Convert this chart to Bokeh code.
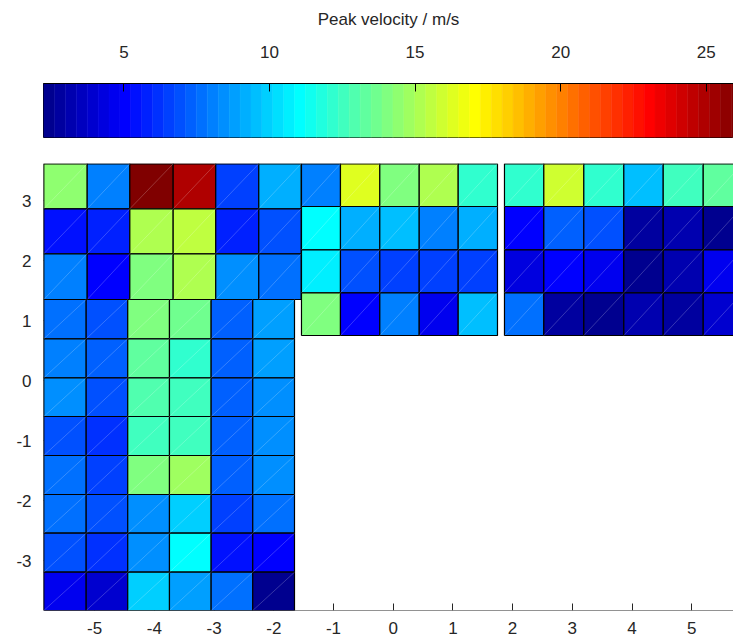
import numpy as np
from bokeh.plotting import figure
from bokeh.layouts import column
from bokeh.models import LinearColorMapper, ColumnDataSource, FixedTicker, LinearAxis
from bokeh.embed import file_html
from bokeh.resources import INLINE

# ---------------- data ----------------
cbar_low = 2.24
cbar_high = 26.24
cbar_ticks = [5, 10, 15, 20, 25]
x_ticks = [-5, -4, -3, -2, -1, 0, 1, 2, 3, 4, 5]
y_ticks = [-3, -2, -1, 0, 1, 2, 3]

# block 1: upper left (rows listed top -> bottom)
b1_x = [-5.852, -5.125, -4.411, -3.685, -2.972, -2.251, -1.541]
b1_y = [3.612, 2.862, 2.112, 1.350]
b1_v = [
    [14.43, 8.05, 26.05, 24.93, 6.55, 9.18],
    [5.43, 5.80, 15.18, 15.55, 5.80, 6.93],
    [8.05, 5.05, 14.05, 15.18, 8.43, 7.68],
]

# block 2: lower left
b2_x = [-5.852, -5.142, -4.446, -3.747, -3.049, -2.352, -1.653]
b2_y = [1.350, 0.695, 0.045, -0.600, -1.250, -1.900, -2.545, -3.195, -3.833]
b2_v = [
    [7.68, 6.93, 14.05, 13.68, 7.30, 8.80],
    [8.05, 7.30, 13.30, 12.18, 7.30, 8.80],
    [8.43, 6.93, 12.93, 12.55, 7.30, 8.43],
    [6.93, 6.18, 12.55, 12.55, 7.30, 8.43],
    [7.68, 6.55, 14.05, 14.80, 7.30, 8.43],
    [7.68, 6.93, 8.43, 9.93, 6.55, 7.68],
    [6.93, 6.18, 8.43, 11.05, 5.43, 5.05],
    [4.68, 3.93, 9.93, 8.80, 7.68, 2.43],
]

# block 3: middle
b3_x = [-1.536, -0.883, -0.224, 0.436, 1.089, 1.747]
b3_y = [3.612, 2.900, 2.178, 1.462, 0.750]
b3_v = [
    [8.05, 16.30, 14.05, 15.18, 12.18],
    [11.05, 9.18, 9.55, 8.05, 9.18],
    [10.68, 6.93, 6.55, 6.55, 6.55],
    [14.05, 5.05, 8.05, 4.68, 9.55],
]

# block 4: right
b4_x = [1.864, 2.523, 3.193, 3.863, 4.523, 5.193, 5.851]
b4_y = [3.612, 2.900, 2.178, 1.462, 0.750]
b4_v = [
    [12.18, 15.93, 12.18, 9.55, 12.55, 13.30],
    [5.05, 7.30, 6.93, 2.80, 3.18, 2.43],
    [4.30, 5.05, 4.68, 2.43, 3.18, 4.68],
    [7.68, 2.80, 2.43, 3.18, 2.80, 3.93],
]


# ---------------- jet(64) colormap ----------------
def jet(n=64):
    m = int(np.ceil(n / 4))
    u = np.r_[np.arange(1, m + 1) / m, np.ones(m - 1), np.arange(m, 0, -1) / m]
    g = int(np.ceil(m / 2)) - (1 if n % 4 == 1 else 0) + np.arange(1, len(u) + 1)
    r = g + m
    b = g - m
    J = np.zeros((n, 3))
    rr = r[r <= n]
    gg = g[g <= n]
    bb = b[b >= 1]
    J[rr - 1, 0] = u[: len(rr)]
    J[gg - 1, 1] = u[: len(gg)]
    J[bb - 1, 2] = u[len(u) - len(bb):]
    return ["#%02x%02x%02x" % tuple(int(round(c * 255)) for c in row) for row in J]


palette = jet(64)
mapper = LinearColorMapper(palette=palette, low=cbar_low, high=cbar_high)

# ---------------- cells ----------------
L, R, T, B, V = [], [], [], [], []
for xe, ye, vals in [(b1_x, b1_y, b1_v), (b2_x, b2_y, b2_v), (b3_x, b3_y, b3_v), (b4_x, b4_y, b4_v)]:
    for i, row in enumerate(vals):
        for j, v in enumerate(row):
            L.append(xe[j]); R.append(xe[j + 1])
            T.append(ye[i]); B.append(ye[i + 1])
            V.append(v)

src = ColumnDataSource(dict(left=L, right=R, top=T, bottom=B, v=V,
                            dx=[[l, r] for l, r in zip(L, R)],
                            dy=[[b, t] for b, t in zip(B, T)]))

FONT = "Liberation Sans"
TXT = "#262626"

# ---------------- colorbar figure ----------------
cb = figure(width=733, height=150, x_range=(cbar_low, 25.935), y_range=(0, 1),
            x_axis_location="above", y_axis_location=None,
            output_backend="svg", toolbar_location=None,
            min_border_left=43, min_border_right=0, min_border_top=83, min_border_bottom=13)
edges = np.linspace(cbar_low, cbar_high, len(palette) + 1)
cb.quad(left=edges[:-1], right=edges[1:], bottom=0, top=1,
        fill_color=palette, line_color=palette, line_width=0.5)
cb.grid.visible = False
cb.outline_line_color = "black"
cb.outline_line_width = 1
ax = cb.xaxis[0]
ax.ticker = FixedTicker(ticks=cbar_ticks)
ax.axis_label = "Peak velocity / m/s"
ax.axis_label_text_font = FONT
ax.axis_label_text_font_size = "17px"
ax.axis_label_text_font_style = "normal"
ax.axis_label_text_color = TXT
ax.axis_label_standoff = 14
ax.major_label_text_font = FONT
ax.major_label_text_font_size = "17px"
ax.major_label_text_color = TXT
ax.major_label_standoff = 26
ax.major_tick_in = 8
ax.major_tick_out = 0
ax.major_tick_line_color = "black"
ax.minor_tick_line_color = None
ax.axis_line_color = "black"

# ---------------- main figure ----------------
p = figure(width=733, height=491, x_range=(-5.857, 5.700), y_range=(-3.833, 3.617),
           output_backend="svg", toolbar_location=None,
           x_axis_location=None, y_axis_location=None,
           min_border_left=43, min_border_right=0, min_border_top=13, min_border_bottom=31)
p.grid.visible = False
p.outline_line_color = None

# tick marks + axis lines drawn beneath the cells (hidden where cells cover them)
for loc, ticks in (("below", x_ticks), ("left", y_ticks)):
    a = LinearAxis(ticker=FixedTicker(ticks=ticks), level="underlay",
                   major_tick_in=7, major_tick_out=0,
                   major_tick_line_color=TXT, minor_tick_line_color=None,
                   axis_line_color=TXT, major_label_text_color=None,
                   major_label_text_font_size="17px")
    p.add_layout(a, loc)

p.quad(source=src, left="left", right="right", top="top", bottom="bottom",
       fill_color={"field": "v", "transform": mapper},
       line_color="black", line_width=1.2)
p.multi_line(xs="dx", ys="dy", source=src, line_color="white", line_alpha=0.3, line_width=0.7)

# labels-only axes on top (plain hyphen minus, as in the reference)
for loc, ticks, so in (("below", x_ticks, 11), ("left", y_ticks, 12)):
    a = LinearAxis(ticker=FixedTicker(ticks=ticks),
                   major_label_overrides={t: str(t) for t in ticks},
                   major_tick_in=0, major_tick_out=0,
                   major_tick_line_color=None, minor_tick_line_color=None,
                   axis_line_color=None,
                   major_label_text_font=FONT, major_label_text_font_size="17px",
                   major_label_text_color=TXT, major_label_standoff=so)
    p.add_layout(a, loc)

layout = column(cb, p, spacing=0)
open("out.html", "w").write(file_html(layout, INLINE))
